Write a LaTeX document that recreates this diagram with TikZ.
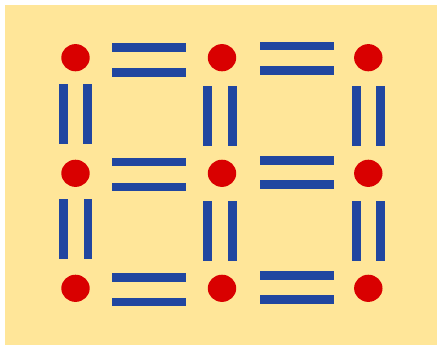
\documentclass[tikz,border=0pt]{standalone}
\definecolor{bgyellow}{HTML}{FFE699}
\definecolor{barblue}{HTML}{2146A0}
\definecolor{dotred}{HTML}{D90000}
\begin{document}
\begin{tikzpicture}[x=1pt,y=-1pt,
  bar/.style={fill=barblue,draw=none},
  dot/.style={fill=dotred,draw=none}]
\useasboundingbox (0,0) rectangle (438,346);
\fill[bgyellow] (5,5) rectangle (437,345);
% dots
\foreach \x in {75.5,222,368.3}
  \foreach \y in {57.7,173.3,288.3}
    \fill[dot] (\x,\y) ellipse [x radius=14.2, y radius=13.6];
% horizontal bars: top row
\fill[bar] (112,43.3) rectangle (186,52);
\fill[bar] (112,68.3) rectangle (186,76.7);
\fill[bar] (260.3,41.7) rectangle (333.7,49.8);
\fill[bar] (260.3,66) rectangle (333.7,74.7);
% middle row
\fill[bar] (112,158.3) rectangle (186,166.3);
\fill[bar] (112,182.7) rectangle (186,190.9);
\fill[bar] (260.3,155.7) rectangle (333.7,164.5);
\fill[bar] (260.3,180) rectangle (333.7,189);
% bottom row
\fill[bar] (112,273.3) rectangle (186,282);
\fill[bar] (112,297.7) rectangle (186,305.9);
\fill[bar] (260.3,271) rectangle (333.7,279.5);
\fill[bar] (260.3,295) rectangle (333.7,304);
% vertical bars: upper
\fill[bar] (59,84) rectangle (67.7,143.7);
\fill[bar] (83,84) rectangle (92,143.7);
\fill[bar] (203,86) rectangle (212,145.7);
\fill[bar] (228,86) rectangle (237,145.7);
\fill[bar] (352,86) rectangle (361,145.7);
\fill[bar] (376,86) rectangle (385,145.7);
% vertical bars: lower
\fill[bar] (59,199) rectangle (68,259);
\fill[bar] (83.7,199) rectangle (92,259);
\fill[bar] (203,201) rectangle (212,261);
\fill[bar] (228,201) rectangle (237,261);
\fill[bar] (352,201) rectangle (361,261);
\fill[bar] (376,201) rectangle (385,261);
\end{tikzpicture}
\end{document}
